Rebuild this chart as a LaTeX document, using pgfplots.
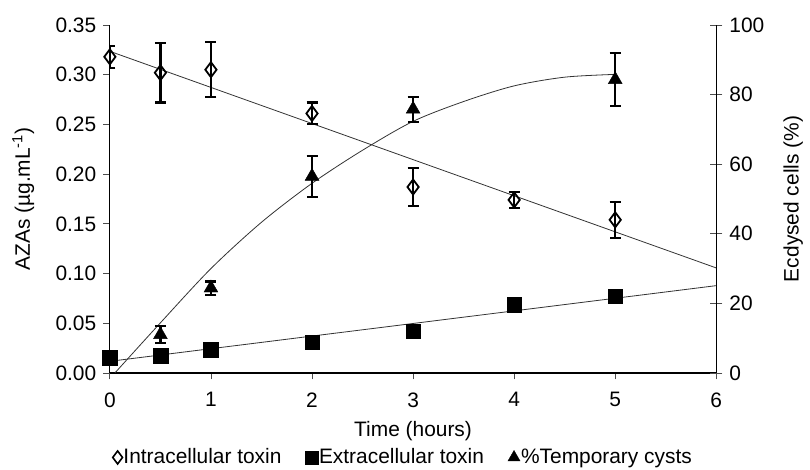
\documentclass[border=0pt]{standalone}
\usepackage{pgfplots}
\pgfplotsset{compat=1.18}
\usepackage{fontspec}
\setmainfont{Liberation Sans}
\begin{document}
\fontsize{21}{25}\selectfont
\begin{tikzpicture}
\pgfplotsset{
  base/.style={
    scale only axis, width=607bp, height=348.3bp,
    at={(0,0)}, anchor=south west,
    xmin=0, xmax=6,
    /pgf/number format/assume math mode=true,
    axis line style={line width=1.2bp, black},
    tick style={line width=0.8bp, black!70},
    major tick length=6.5bp, tick align=outside,
  },
  ebar/.style={
    error bars/.cd, y dir=both, y explicit,
    error bar style={line width=2.2bp, black},
    error mark options={rotate=90, mark size=5.5bp, line width=2.2bp, black},
  },
  trend/.style={no marks, line width=0.8bp, black!80, forget plot},
}
\begin{axis}[base,
  ymin=0, ymax=0.35,
  ytick={0,0.05,0.10,0.15,0.20,0.25,0.30,0.35},
  yticklabel style={/pgf/number format/.cd, fixed, fixed zerofill, precision=2},
  xtick={0,1,2,3,4,5,6},
  xticklabel style={yshift=-6bp},
  axis x line*=bottom, axis y line*=left,
  xlabel={Time (hours)},
  ylabel={AZAs (µg.mL\textsuperscript{-1})},
  x label style={at={(axis description cs:0.5,-0.168)}, anchor=center},
  y label style={at={(axis description cs:-0.143,0.5)}, anchor=center},
  legend columns=3,
  legend style={draw=none, fill=none, at={(axis description cs:0.483,-0.243)}, anchor=center,
    /tikz/every even column/.append style={column sep=23bp},
    nodes={inner sep=1bp}},
  legend image code/.code={\draw[#1] plot coordinates {(0.13cm,0cm)};},
]
\addlegendimage{only marks, mark=diamond, mark size=6.5bp, mark options={line width=1.6bp, black}}
\addlegendimage{only marks, mark=square*, mark size=6.3bp, mark options={black}}
\addlegendimage{only marks, mark=triangle*, mark size=7bp, mark options={black}}
\legend{Intracellular toxin, Extracellular toxin, \%Temporary cysts}
% trend lines
\addplot[trend] coordinates {(0,0.3235) (6,0.1056)};
\addplot[trend] coordinates {(0,0.0117) (6,0.0878)};
% intracellular toxin
\addplot[forget plot, only marks, mark=diamond, mark size=7.5bp, mark options={line width=1.8bp, black}, ebar]
  coordinates {
  (0,0.318) +- (0,0.011)
  (0.5,0.302) +- (0,0.030)
  (1,0.305) +- (0,0.0275)
  (2,0.261) +- (0,0.011)
  (3,0.187) +- (0,0.019)
  (4,0.174) +- (0,0.008)
  (5,0.154) +- (0,0.018)
  };
% extracellular toxin
\addplot[forget plot, only marks, mark=square*, mark size=7.3bp, mark options={black}, ebar]
  coordinates {
  (0,0.0151) +- (0,0.003)
  (0.5,0.0174) +- (0,0.001)
  (1,0.0234) +- (0,0.002)
  (2,0.0308) +- (0,0.001)
  (3,0.0419) +- (0,0.005)
  (4,0.0687) +- (0,0.002)
  (5,0.0770) +- (0,0.002)
  };
\end{axis}
\begin{axis}[base,
  ymin=0, ymax=100,
  ytick={0,20,40,60,80,100},
  axis y line*=right, axis x line=none,
  tick align=center, major tick length=12bp,
  ylabel={Ecdysed cells (\%)},
  y label style={at={(axis description cs:1.127,0.5)}, anchor=center},
]
\addplot[no marks, line width=0.8bp, black!80, smooth] coordinates {
  (0.05,0) (0.5,14.4) (1,30.0) (1.5,43.3) (2,54.5) (2.5,64.0) (3,72.3)
  (3.5,78.0) (4,82.5) (4.5,85.0) (5,85.8)};
\addplot[only marks, mark=triangle*, mark size=8bp, mark options={black}, ebar]
  coordinates {
  (0.5,11.0) +- (0,2.5)
  (1,24.4) +- (0,1.9)
  (2,56.5) +- (0,5.9)
  (3,75.8) +- (0,3.6)
  (5,84.3) +- (0,7.6)
  };
\end{axis}
\path[use as bounding box] (-110bp,-94.7bp) rectangle (700bp,373.3bp);
\end{tikzpicture}
\end{document}
